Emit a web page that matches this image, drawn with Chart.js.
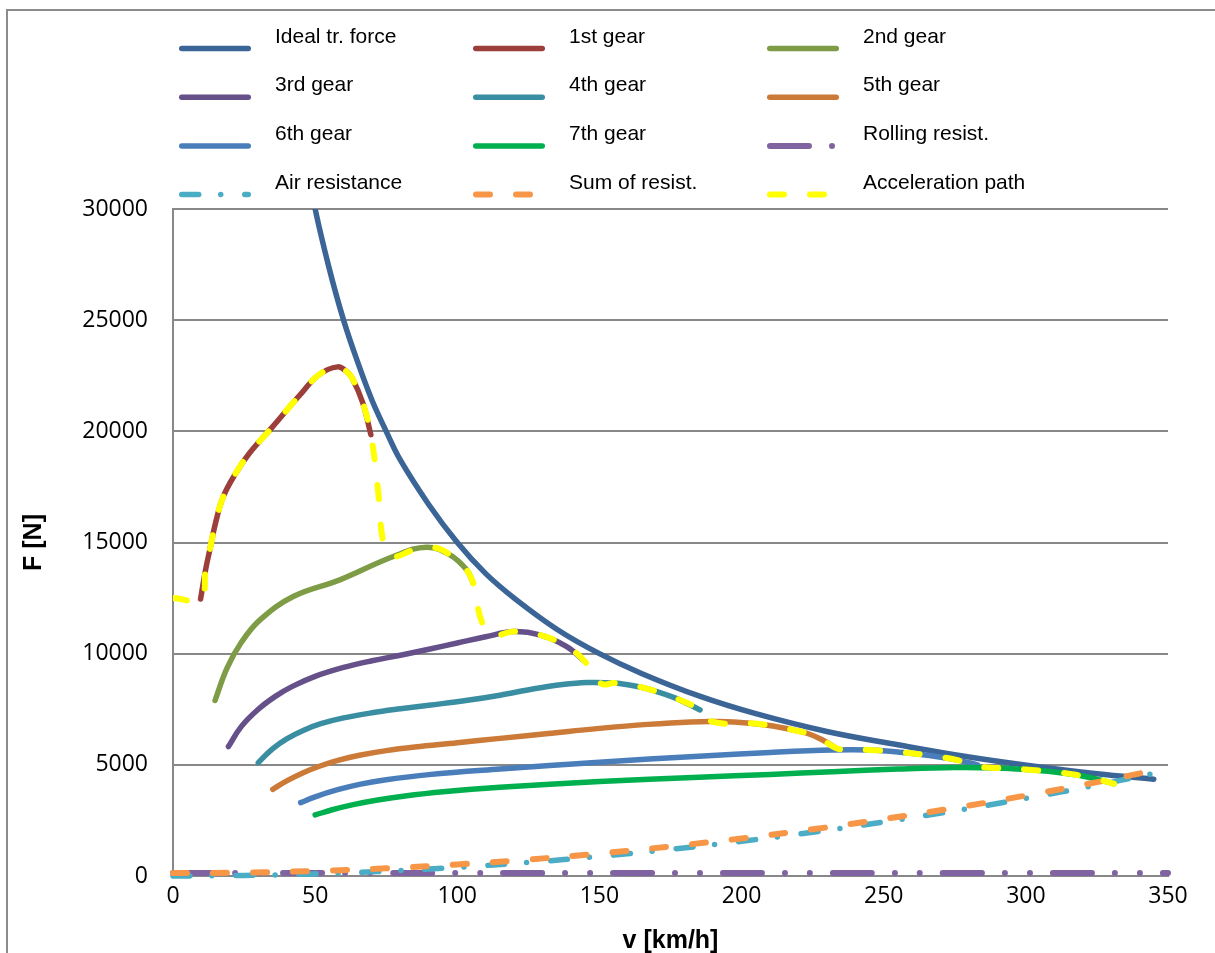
<!DOCTYPE html>
<html>
<head>
<meta charset="utf-8">
<script src="https://cdn.jsdelivr.net/npm/chart.js@4.4.0/dist/chart.umd.min.js"></script>
<style>
  html, body { margin: 0; padding: 0; background: #fff; }
  #wrap { position: relative; width: 1215px; height: 953px; overflow: hidden; }
  #frame { position: absolute; left: 6px; top: 9px; width: 1300px; height: 1000px;
           border-left: 2px solid #8c8c8c; border-top: 2px solid #8c8c8c; pointer-events: none; }
  canvas { position: absolute; left: 0; top: 0; }
</style>
</head>
<body>
<div id="wrap">
  <canvas id="myChart" width="1215" height="953"></canvas>
  <div id="frame"></div>
</div>
<script>
// values (v in km/h, F in N)
const idealSpeed = [45, 50, 55, 60, 65, 70, 75, 80, 90, 100, 110, 120, 135, 150, 165, 185, 205, 230, 255, 280, 305, 325, 345]
const idealForce = [33300, 30000, 27300, 25000, 23100, 21400, 20000, 18700, 16700, 15000, 13600, 12500, 11100, 10000, 9100, 8100, 7300, 6500, 5900, 5350, 4900, 4600, 4350]

const gear1Speed = [9.7, 11.5, 13, 15, 17.7, 22, 26.8, 35, 44.4, 51.4, 57.9, 61, 63, 66.7, 69.6]
const gear1Force = [12460, 13800, 14700, 15900, 17070, 18100, 19000, 20200, 21600, 22550, 22900, 22700, 22400, 21300, 19850]

const gear2Speed = [14.8, 19, 24, 30.6, 42.3, 58.7, 77.5, 89.2, 97.4, 103.3, 105.6]
const gear2Force = [7900, 9350, 10500, 11520, 12570, 13320, 14370, 14790, 14445, 13770, 13170]

const gear3Speed = [19.5, 24, 30, 36, 42, 50, 60, 70, 80, 90, 100, 110, 119.7, 129, 138.5, 144.9]
const gear3Force = [5820, 6720, 7500, 8080, 8530, 8980, 9380, 9680, 9930, 10200, 10480, 10760, 10995, 10845, 10320, 9645]

const gear4Speed = [30, 35, 40, 46, 52, 60, 70, 80, 90, 103, 115, 127, 137, 145.5, 155, 162, 168, 177, 185.4]
const gear4Force = [5100, 5720, 6170, 6560, 6850, 7110, 7340, 7520, 7680, 7890, 8130, 8420, 8610, 8700, 8680, 8560, 8380, 7990, 7470]

const gear5Speed = [35.1, 40, 46, 52, 58, 66, 75, 85, 100, 115, 132, 150, 167, 182, 192, 203, 211, 218, 223, 228, 233.4]
const gear5Force = [3900, 4280, 4660, 4960, 5200, 5440, 5640, 5800, 5990, 6190, 6410, 6640, 6820, 6930, 6945, 6870, 6750, 6570, 6420, 6150, 5745]

const gear6Speed = [44.9, 50, 57.6, 66, 75, 90, 115, 150, 185, 210, 232, 245, 256, 266, 276, 283]
const gear6Force = [3300, 3560, 3870, 4130, 4330, 4560, 4810, 5120, 5390, 5560, 5670, 5670, 5570, 5420, 5210, 5000]

const gear7Speed = [50, 56, 63.4, 72, 81, 95, 115, 150, 185, 210, 232, 255, 275, 290, 300, 310, 318, 326, 331]
const gear7Force = [2745, 2980, 3210, 3420, 3590, 3790, 3990, 4250, 4440, 4570, 4690, 4810, 4880, 4860, 4790, 4680, 4540, 4320, 4150]

const rollSpeed = [0, 350]
const rollForce = [130, 130]

const airSpeed = [0, 25, 50, 75, 100, 125, 150, 175, 200, 225, 250, 275, 300, 325, 346]
const airForce = [0, 25, 95, 215, 390, 610, 880, 1200, 1560, 1970, 2430, 2930, 3490, 4090, 4640]

const sumSpeed = [0, 25, 50, 75, 100, 125, 150, 175, 200, 225, 250, 275, 300, 325, 346]
const sumForce = [130, 155, 225, 345, 520, 740, 1010, 1330, 1690, 2100, 2560, 3060, 3620, 4220, 4770]

const accelSpeed = [0, 9.7, 11.5, 13, 15, 17.7, 22, 26.8, 35, 44.4, 51.4, 57.9, 61, 63, 66.7, 69.6, 72, 74.3, 77.5, 84,
  89.2, 94, 97.4, 100.5, 103.3, 105.6, 108.6, 112.5, 119.7, 129, 138.5, 144.9, 147.8, 151.4, 155, 162, 168, 177, 185.4, 190,
  203, 211, 218, 223, 228, 233.4, 237, 245, 256, 266, 276, 283, 290, 300, 310, 318, 326, 331]
const accelForce = [12500, 12460, 13800, 14700, 15900, 17070, 18100, 19000, 20200, 21600, 22550, 22900, 22700, 22400, 21300, 19850, 17500, 14800, 14370, 14640,
  14790, 14700, 14445, 14150, 13770, 13170, 11445, 10830, 10995, 10845, 10320, 9645, 8970, 8620, 8680, 8560, 8380, 7990, 7470, 6930,
  6870, 6750, 6570, 6420, 6150, 5745, 5680, 5670, 5570, 5420, 5210, 4930, 4860, 4790, 4680, 4540, 4320, 4150]

const xTicks = [0, 50, 100, 150, 200, 250, 300, 350]
const yTicks = [0, 5000, 10000, 15000, 20000, 25000, 30000]

const pts = (vs, fs) => vs.map((v, i) => ({ x: v, y: fs[i] }))

function series(label, vs, fs, color, width, dash, order, clip) {
  return {
    label,
    data: pts(vs, fs),
    borderColor: color,
    backgroundColor: color,
    borderWidth: width,
    borderDash: dash,
    borderCapStyle: 'round',
    borderJoinStyle: 'round',
    tension: 0.4,
    pointRadius: 0,
    fill: false,
    order,
    clip
  }
}

const datasets = [
  series('Ideal tr. force', idealSpeed, idealForce, '#3B6596', 5.5, [], 11),
  series('1st gear', gear1Speed, gear1Force, '#9C3F3B', 5.5, [], 10),
  series('2nd gear', gear2Speed, gear2Force, '#7E9B45', 5.5, [], 9),
  series('3rd gear', gear3Speed, gear3Force, '#65508A', 5.5, [], 8),
  series('4th gear', gear4Speed, gear4Force, '#3A8EA2', 5.5, [], 7),
  series('5th gear', gear5Speed, gear5Force, '#CC7A37', 5.5, [], 6),
  series('6th gear', gear6Speed, gear6Force, '#4A7EBB', 5.5, [], 5),
  series('7th gear', gear7Speed, gear7Force, '#00B04F', 5.5, [], 4),
  series('Rolling resist.', rollSpeed, rollForce, '#8064A2', 6, [39, 23, 0, 25, 0, 23], 3, 6),
  series('Air resistance', airSpeed, airForce, '#4BACC6', 5.5, [17, 22, 0, 24], 2, 6),
  series('Sum of resist.', sumSpeed, sumForce, '#F79646', 6, [14, 26], 1, 6),
  series('Acceleration path', accelSpeed, accelForce, '#FFFF00', 6, [14, 26], 0)
]

// three-column legend above the plot, swatch sits a bit below its text
const gridLegend = {
  id: 'gridLegend',
  afterDraw(chart) {
    const ctx = chart.ctx
    ctx.save()
    chart.data.datasets.forEach((ds, i) => {
      const col = i % 3
      const row = Math.floor(i / 3)
      const x0 = 179 + col * 294
      const ys = 48.5 + row * 48.7
      const half = ds.borderWidth / 2
      ctx.beginPath()
      ctx.setLineDash(ds.borderDash)
      ctx.lineDashOffset = 0
      ctx.lineWidth = ds.borderWidth
      ctx.lineCap = 'round'
      ctx.strokeStyle = ds.borderColor
      ctx.moveTo(x0 + half, ys)
      ctx.lineTo(x0 + 72 - half, ys)
      ctx.stroke()
      ctx.setLineDash([])
      ctx.fillStyle = '#000'
      ctx.font = '21px "Liberation Sans", Arial, sans-serif'
      ctx.textAlign = 'left'
      ctx.textBaseline = 'middle'
      ctx.fillText(ds.label, x0 + 96, 37 + row * 48.7)
    })
    ctx.restore()
  }
}

const tickFont = { family: '"Open Sans", sans-serif', size: 23 }
const titleFont = { family: '"Liberation Sans", Arial, sans-serif', size: 25, weight: 'bold' }

const config = {
  type: 'line',
  data: { datasets },
  options: {
    responsive: false,
    animation: false,
    devicePixelRatio: 1,
    layout: { padding: { left: 8, right: 47, top: 209, bottom: 0 } },
    plugins: {
      legend: { display: false },
      tooltip: { enabled: false }
    },
    scales: {
      x: {
        type: 'linear',
        min: xTicks[0],
        max: xTicks[xTicks.length - 1],
        afterFit: s => { s.height = 77 },
        afterBuildTicks: s => { s.ticks = xTicks.map(v => ({ value: v })) },
        ticks: { padding: 7, color: '#000', font: tickFont, maxRotation: 0, autoSkip: false, callback: v => String(v) },
        grid: { display: false, drawTicks: false },
        border: { display: true, color: '#888', width: 2 },
        title: { display: true, text: 'v [km/h]', color: '#000', font: titleFont, padding: { top: 0, bottom: -3 } }
      },
      y: {
        type: 'linear',
        min: yTicks[0],
        max: yTicks[yTicks.length - 1],
        afterFit: s => { s.width = 165 },
        afterBuildTicks: s => { s.ticks = yTicks.map(v => ({ value: v })) },
        ticks: { padding: 25, color: '#000', font: tickFont, autoSkip: false, callback: v => String(v) },
        grid: { color: '#888', lineWidth: 2, drawTicks: false },
        border: { display: true, color: '#888', width: 2 },
        title: { display: true, text: 'F [N]', color: '#000', font: titleFont, padding: { top: 11, bottom: 0 } }
      }
    }
  },
  plugins: [gridLegend]
}

const myChart = new Chart(document.getElementById('myChart'), config)
</script>
</body>
</html>
